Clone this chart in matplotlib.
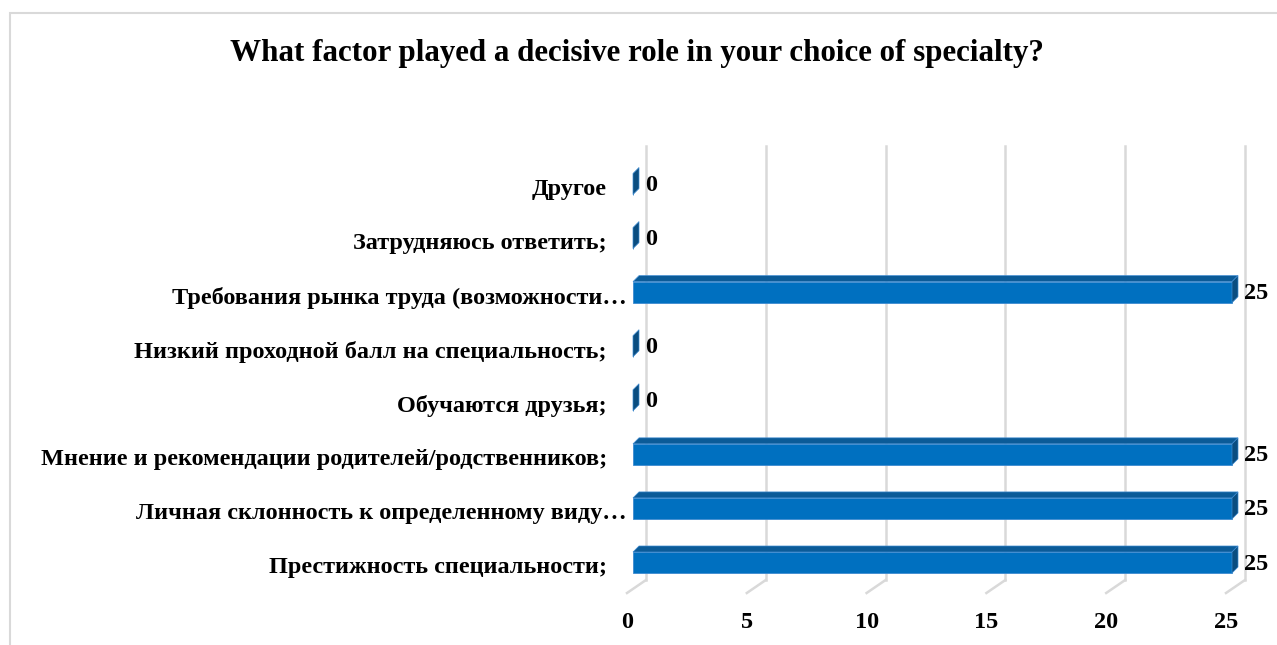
import matplotlib.pyplot as plt
from matplotlib.patches import Polygon, Rectangle

plt.rcParams['font.family'] = ['Liberation Serif', 'DejaVu Serif']
plt.rcParams['font.weight'] = 'bold'

# bottom to top, as the chart shows them
categories = [
    'Престижность специальности;',
    'Личная склонность к определенному виду…',
    'Мнение и рекомендации родителей/родственников;',
    'Обучаются друзья;',
    'Низкий проходной балл на специальность;',
    'Требования рынка труда (возможности…',
    'Затрудняюсь ответить;',
    'Другое',
]
values = [25, 25, 25, 0, 0, 25, 0, 0]
xticks = [0, 5, 10, 15, 20, 25]
title = 'What factor played a decisive role in your choice of specialty?'

W, H = 1277, 645
fig = plt.figure(figsize=(W / 100, H / 100), dpi=100)
fig.patch.set_facecolor('white')

# chart frame (runs off the right and bottom edge)
fig.add_artist(Rectangle((10 / W, -0.1), 1.2, 1 - 13 / H + 0.1,
                         transform=fig.transFigure, fill=False,
                         edgecolor='#d9d9d9', linewidth=1.5))

ax = fig.add_axes([633 / W, 82.5 / H, 599 / W, (461 - 82.5) / H])
ax.set_xlim(0, 25)
ax.set_ylim(0, 7)
ax.axis('off')

sx = 599 / 25            # pixels per x unit
sy = (461 - 82.5) / 7    # pixels per category step


def ux(px):
    return px / sx


def uy(px):
    return px / sy


wall = 13        # back wall offset in px
depth = 6        # bar depth in px
bar_h = uy(21)
floor_back = -uy(17.5)
floor_front = -uy(30.5)
grid_top = 7 + uy(38)
fs = 17.5

grid_c = '#d9d9d9'
for v in xticks:
    ax.plot([v + ux(wall)] * 2, [floor_back, grid_top], color=grid_c,
            lw=1.8, clip_on=False, zorder=1)
    ax.plot([v - ux(6), v + ux(wall)], [floor_front, floor_back],
            color=grid_c, lw=1.8, clip_on=False, zorder=1)
    ax.text(v - ux(6), floor_front - uy(30), str(v), ha='center',
            va='center', fontsize=fs, fontweight='bold')

front_c = '#0070c0'
top_c = '#0b5b98'
side_c = '#0a4d80'
edge_c = '#3d8ad0'
ys = list(range(len(categories)))

ax.barh(ys, values, height=bar_h, color=front_c, edgecolor=edge_c,
        linewidth=0.6, zorder=3, clip_on=False)

dx, dy = ux(depth), uy(depth)
for y, v in zip(ys, values):
    t = y + bar_h / 2
    b = y - bar_h / 2
    if v > 0:
        ax.add_patch(Polygon([(0, t), (v, t), (v + dx, t + dy), (dx, t + dy)],
                             closed=True, facecolor=top_c, edgecolor=edge_c,
                             linewidth=0.5, zorder=3, clip_on=False))
    ax.add_patch(Polygon([(v, b), (v, t), (v + dx, t + dy), (v + dx, b + dy)],
                         closed=True, facecolor=side_c, edgecolor=edge_c,
                         linewidth=0.5, zorder=4, clip_on=False))
    ax.text(v + ux(12), y - uy(1.5), f'{v}', ha='left', va='center',
            fontsize=fs, fontweight='bold')

for y, lab in zip(ys, categories):
    pad = 6 if lab.endswith('…') else 26
    ax.text(-ux(pad), y - uy(5.5), lab, ha='right', va='center',
            fontsize=fs, fontweight='bold')

fig.text(637 / W, 1 - 53 / H, title, ha='center', va='center',
         fontsize=22.3, fontweight='bold')

fig.savefig('out.png', dpi=100, facecolor='white')
